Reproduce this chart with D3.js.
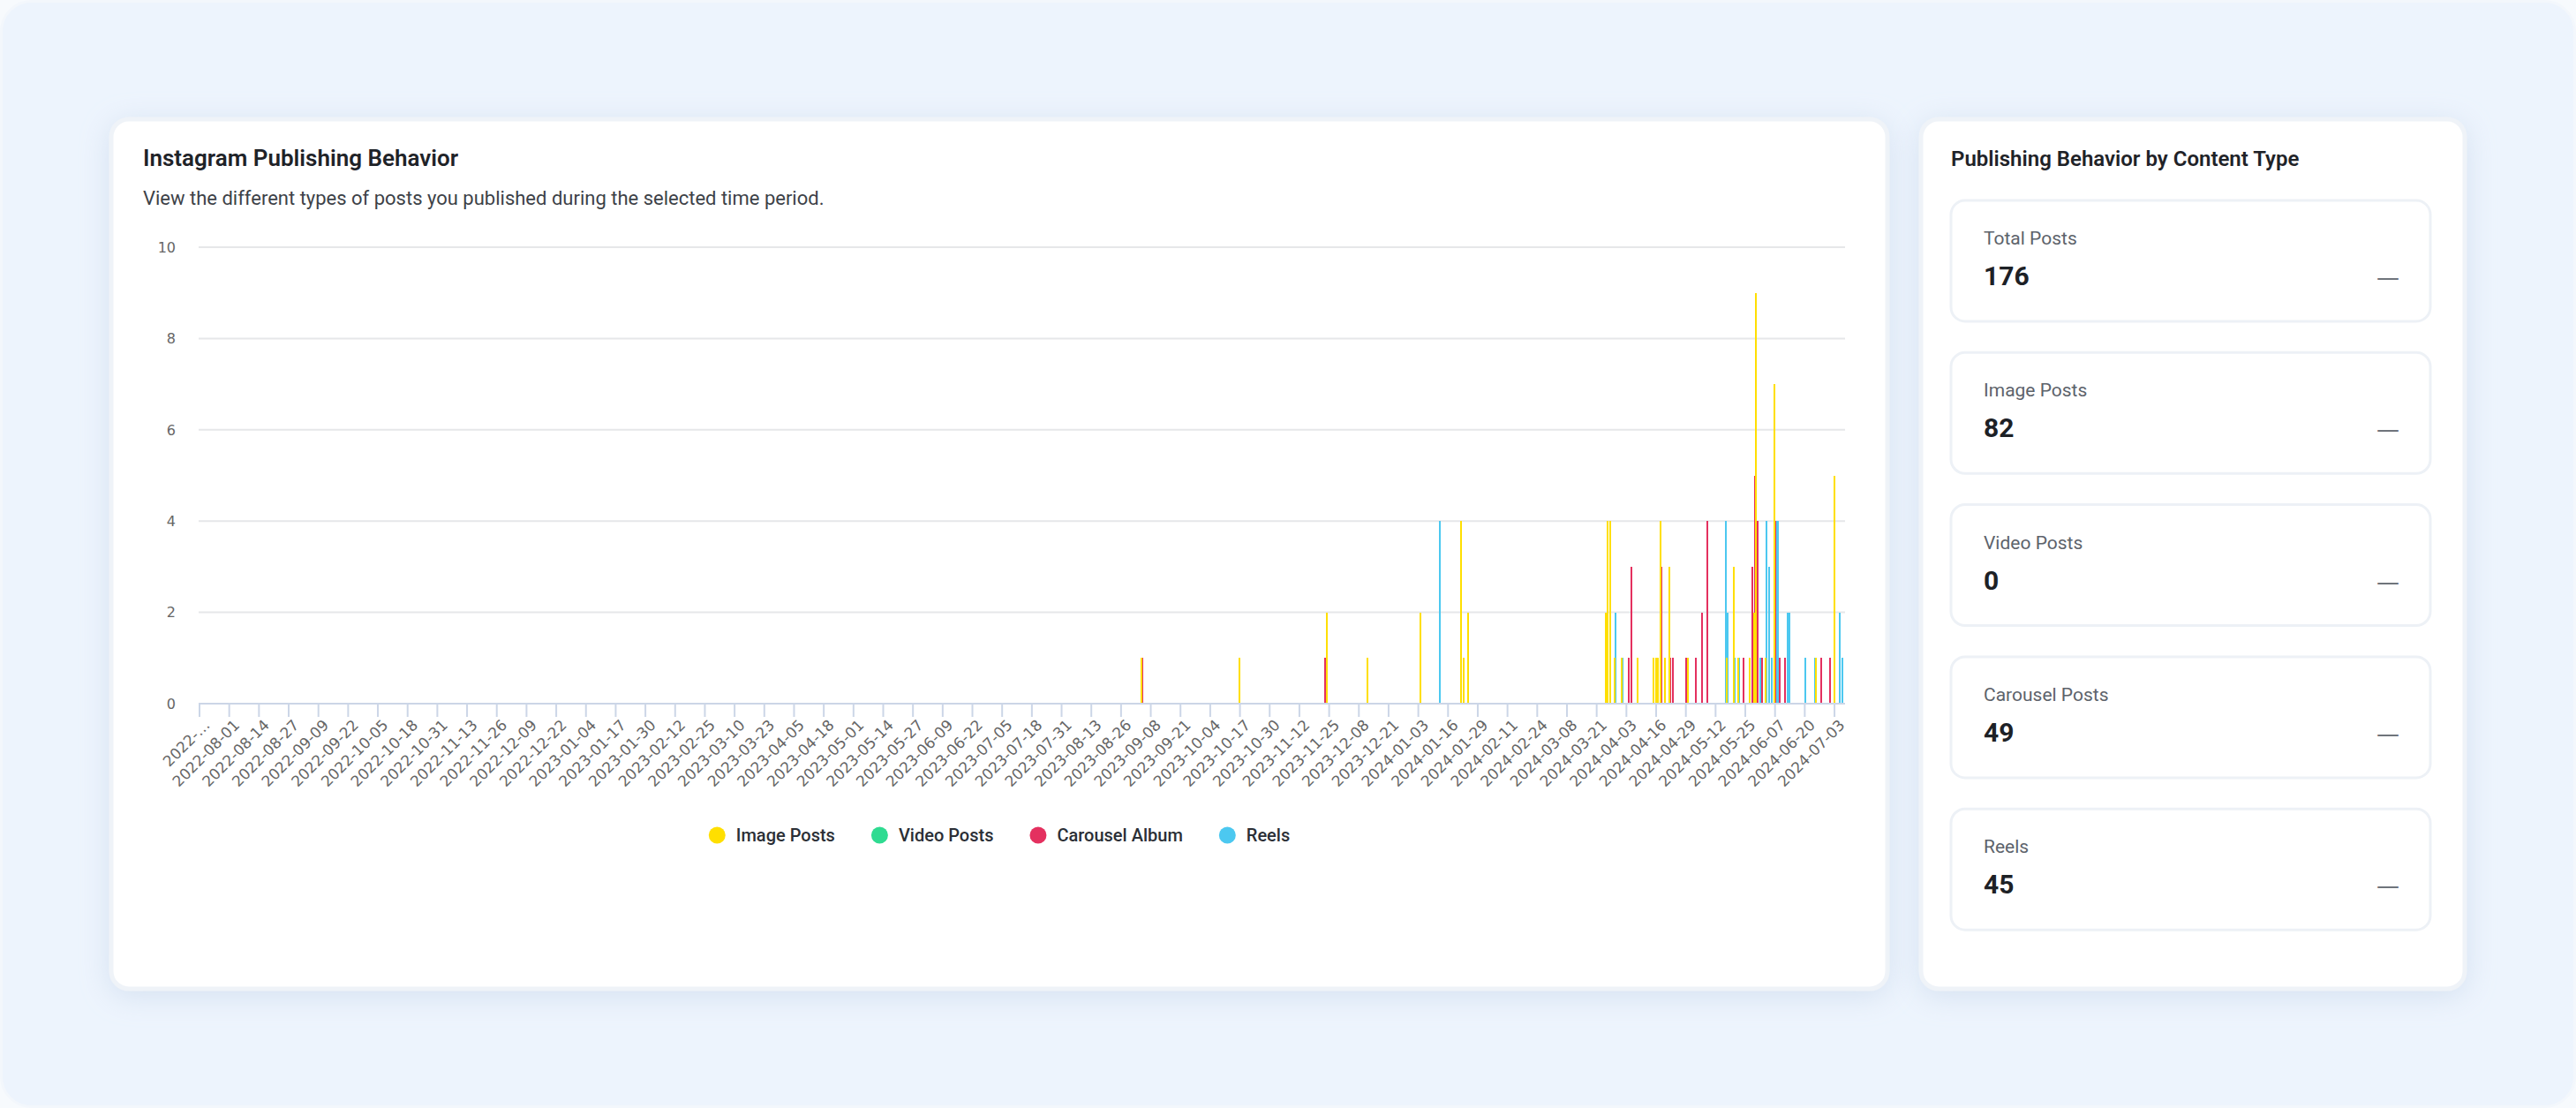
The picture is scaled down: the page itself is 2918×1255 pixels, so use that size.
<!DOCTYPE html>
<html>
<head>
<meta charset="utf-8">
<script src="https://cdn.jsdelivr.net/npm/d3@7"></script>
<style>
  html, body { margin: 0; padding: 0; background: #f7fafd; }
  svg { display: block; }
</style>
</head>
<body>
<svg id="chart" width="2918" height="1255"></svg>
<script>
/*
Instagram publishing behavior: daily posts by content type,
plus the summary cards on the right.
*/

// period covered by the x axis (one category per day)
const periodStart = "2022-07-19";
const periodEnd = "2024-07-07";

const seriesNames = ["Image Posts", "Video Posts", "Carousel Album", "Reels"];
const seriesColors = ["#ffdf00", "#2fdb91", "#e4305f", "#4cc8f0"];

// [date, posts]
const imagePosts = [
  ["2023-09-04", 1], ["2023-10-17", 1], ["2023-11-24", 2], ["2023-12-12", 1],
  ["2024-01-04", 2], ["2024-01-22", 4], ["2024-01-23", 1], ["2024-01-25", 2],
  ["2024-03-25", 2], ["2024-03-26", 4], ["2024-03-27", 4], ["2024-03-29", 1],
  ["2024-04-01", 1], ["2024-04-08", 1], ["2024-04-15", 1], ["2024-04-16", 1],
  ["2024-04-17", 1], ["2024-04-18", 4], ["2024-04-20", 1], ["2024-04-22", 3],
  ["2024-04-30", 1], ["2024-05-17", 1], ["2024-05-20", 3], ["2024-05-22", 1],
  ["2024-05-27", 1], ["2024-05-29", 2], ["2024-05-30", 9], ["2024-06-03", 1],
  ["2024-06-07", 7], ["2024-06-25", 1], ["2024-07-03", 5]
];
const videoPosts = [];
const carouselPosts = [
  ["2023-09-04", 1], ["2023-11-23", 1], ["2024-04-04", 1], ["2024-04-05", 3],
  ["2024-04-18", 3], ["2024-04-22", 1], ["2024-04-23", 1], ["2024-04-29", 1],
  ["2024-05-03", 1], ["2024-05-06", 2], ["2024-05-08", 4], ["2024-05-24", 1],
  ["2024-05-28", 3], ["2024-05-29", 5], ["2024-05-30", 4], ["2024-06-01", 1],
  ["2024-06-07", 4], ["2024-06-09", 1], ["2024-06-11", 1], ["2024-06-27", 1],
  ["2024-07-01", 1]
];
const reelsPosts = [
  ["2024-01-12", 4], ["2024-03-29", 2], ["2024-04-01", 1], ["2024-05-16", 4],
  ["2024-05-17", 2], ["2024-05-20", 1], ["2024-05-22", 1], ["2024-05-28", 1],
  ["2024-05-31", 1], ["2024-06-03", 4], ["2024-06-04", 3], ["2024-06-05", 1],
  ["2024-06-07", 4], ["2024-06-08", 4], ["2024-06-12", 2], ["2024-06-13", 2],
  ["2024-06-20", 1], ["2024-06-24", 1], ["2024-07-05", 2], ["2024-07-06", 1]
];

const yTicks = [0, 2, 4, 6, 8, 10];
// one label every 13 days, the first one is cut short in the original
const xTickLabels = [
  "2022-…", "2022-08-01", "2022-08-14", "2022-08-27", "2022-09-09", "2022-09-22",
  "2022-10-05", "2022-10-18", "2022-10-31", "2022-11-13", "2022-11-26", "2022-12-09",
  "2022-12-22", "2023-01-04", "2023-01-17", "2023-01-30", "2023-02-12", "2023-02-25",
  "2023-03-10", "2023-03-23", "2023-04-05", "2023-04-18", "2023-05-01", "2023-05-14",
  "2023-05-27", "2023-06-09", "2023-06-22", "2023-07-05", "2023-07-18", "2023-07-31",
  "2023-08-13", "2023-08-26", "2023-09-08", "2023-09-21", "2023-10-04", "2023-10-17",
  "2023-10-30", "2023-11-12", "2023-11-25", "2023-12-08", "2023-12-21", "2024-01-03",
  "2024-01-16", "2024-01-29", "2024-02-11", "2024-02-24", "2024-03-08", "2024-03-21",
  "2024-04-03", "2024-04-16", "2024-04-29", "2024-05-12", "2024-05-25", "2024-06-07",
  "2024-06-20", "2024-07-03"
];
const tickStep = 13;

const statLabels = ["Total Posts", "Image Posts", "Video Posts", "Carousel Posts", "Reels"];
const statValues = [176, 82, 0, 49, 45];


function main() {
  const svg = d3.select("#chart");
  const fmt = d3.timeFormat("%Y-%m-%d");
  const parse = d3.timeParse("%Y-%m-%d");

  // days of the period
  const categories = d3.timeDay
    .range(parse(periodStart), d3.timeDay.offset(parse(periodEnd), 1))
    .map(fmt);

  const defs = svg.append("defs");
  const shadow = defs.append("filter").attr("id", "shadow")
    .attr("x", "-10%").attr("y", "-10%").attr("width", "120%").attr("height", "130%");
  shadow.append("feDropShadow")
    .attr("dx", 0).attr("dy", 6).attr("stdDeviation", 16)
    .attr("flood-color", "#b9cbe3").attr("flood-opacity", 0.45);

  // page background
  svg.append("rect")
    .attr("x", 1.5).attr("y", 1.5).attr("width", 2915).attr("height", 1252)
    .attr("rx", 34)
    .attr("fill", "#edf4fd").attr("stroke", "#f3f7fc").attr("stroke-width", 3);

  drawLeftCard(svg, categories);
  drawRightCard(svg);
}

function drawLeftCard(svg, categories) {
  svg.append("rect")
    .attr("x", 126).attr("y", 135).attr("width", 2012).attr("height", 985)
    .attr("rx", 20)
    .attr("fill", "#ffffff").attr("stroke", "#eff3f8").attr("stroke-width", 5)
    .attr("filter", "url(#shadow)");

  svg.append("text")
    .attr("x", 162).attr("y", 188)
    .style("font", "600 26px Roboto").attr("fill", "#1f2328")
    .text("Instagram Publishing Behavior");
  svg.append("text")
    .attr("x", 162).attr("y", 232)
    .style("font", "400 22px Roboto").attr("fill", "#3d4248")
    .text("View the different types of posts you published during the selected time period.");

  const x = d3.scaleBand().domain(categories).range([225, 2090]).padding(0);
  const y = d3.scaleLinear().domain([0, 10]).range([797, 280]);
  // chart.js style grouping inside each day
  const sub = d3.scaleBand().domain(d3.range(seriesNames.length))
    .range([x.bandwidth() * 0.1, x.bandwidth() * 0.9]);
  const barW = 2;

  // grid
  svg.append("g")
    .selectAll("line")
    .data(yTicks.filter(d => d > 0))
    .enter().append("line")
    .attr("x1", 225).attr("x2", 2090)
    .attr("y1", d => y(d)).attr("y2", d => y(d))
    .attr("stroke", "#e6e7e9").attr("stroke-width", 2);

  svg.append("g")
    .selectAll("text")
    .data(yTicks)
    .enter().append("text")
    .attr("x", 199).attr("y", d => y(d)).attr("dy", "0.36em")
    .attr("text-anchor", "end")
    .style("font", "16px 'DejaVu Sans'").attr("fill", "#666")
    .text(d => d);

  // bars, first series on top like chart.js
  const allSeries = [imagePosts, videoPosts, carouselPosts, reelsPosts];
  for (let k = allSeries.length - 1; k >= 0; k--) {
    svg.append("g")
      .attr("shape-rendering", "crispEdges")
      .selectAll("rect")
      .data(allSeries[k])
      .enter().append("rect")
      .attr("x", d => x(d[0]) + sub(k) + sub.bandwidth() / 2 - barW / 2)
      .attr("width", barW)
      .attr("y", d => y(d[1]))
      .attr("height", d => y(0) - y(d[1]))
      .attr("fill", seriesColors[k]);
  }

  // x axis
  const axisColor = "#ccd6e7";
  svg.append("line")
    .attr("x1", 225).attr("x2", 2090)
    .attr("y1", y(0)).attr("y2", y(0))
    .attr("stroke", axisColor).attr("stroke-width", 2);

  const ticks = xTickLabels.map((label, i) => ({ label: label, cat: categories[i * tickStep] }));
  svg.append("g")
    .selectAll("line")
    .data(ticks)
    .enter().append("line")
    .attr("x1", d => x(d.cat) + 1).attr("x2", d => x(d.cat) + 1)
    .attr("y1", y(0)).attr("y2", y(0) + 15)
    .attr("stroke", axisColor).attr("stroke-width", 2);

  svg.append("g")
    .selectAll("text")
    .data(ticks)
    .enter().append("text")
    .attr("transform", d => "translate(" + (x(d.cat) + x.bandwidth() / 2 + 4) + "," + (y(0) + 17) + ") rotate(-45)")
    .attr("text-anchor", "end").attr("dy", "0.7em")
    .style("font", "17px 'DejaVu Sans'").attr("fill", "#666")
    .text(d => d.label);

  // legend, centred in the card
  const legend = svg.append("g");
  const items = legend.selectAll("g")
    .data(seriesNames)
    .enter().append("g");
  items.append("circle")
    .attr("r", 9.5).attr("cx", 9.5).attr("cy", 946)
    .attr("fill", (d, i) => seriesColors[i]);
  items.append("text")
    .attr("x", 31).attr("y", 953)
    .style("font", "500 20px Roboto").attr("fill", "#2b2f36")
    .text(d => d);
  let widths = [];
  items.each(function() {
    widths.push(31 + d3.select(this).select("text").node().getComputedTextLength());
  });
  const gap = 41;
  const total = d3.sum(widths) + gap * (widths.length - 1);
  let pos = 1132 - total / 2;
  items.attr("transform", function(d, i) {
    const t = "translate(" + pos + ",0)";
    pos += widths[i] + gap;
    return t;
  });
}

function drawRightCard(svg) {
  svg.append("rect")
    .attr("x", 2176).attr("y", 135).attr("width", 616).attr("height", 985)
    .attr("rx", 20)
    .attr("fill", "#ffffff").attr("stroke", "#eff3f8").attr("stroke-width", 5)
    .attr("filter", "url(#shadow)");

  svg.append("text")
    .attr("x", 2210).attr("y", 188)
    .style("font", "600 24px Roboto").attr("fill", "#1f2328")
    .text("Publishing Behavior by Content Type");

  const boxes = svg.append("g")
    .selectAll("g")
    .data(statLabels)
    .enter().append("g")
    .attr("transform", (d, i) => "translate(2210," + (227 + i * 172.3) + ")");

  boxes.append("rect")
    .attr("x", 0).attr("y", 0).attr("width", 543).attr("height", 137)
    .attr("rx", 16)
    .attr("fill", "#ffffff").attr("stroke", "#edf1f6").attr("stroke-width", 3);
  boxes.append("text")
    .attr("x", 37).attr("y", 50)
    .style("font", "400 21px Roboto").attr("fill", "#5d636b")
    .text(d => d);
  boxes.append("text")
    .attr("x", 37).attr("y", 96)
    .style("font", "700 30px Roboto").attr("fill", "#1d2126")
    .text((d, i) => statValues[i]);
  boxes.append("text")
    .attr("x", 508).attr("y", 96)
    .attr("text-anchor", "end")
    .style("font", "400 26px 'DejaVu Sans'").attr("fill", "#6f747b")
    .text("—");
}

main();
</script>
</body>
</html>
